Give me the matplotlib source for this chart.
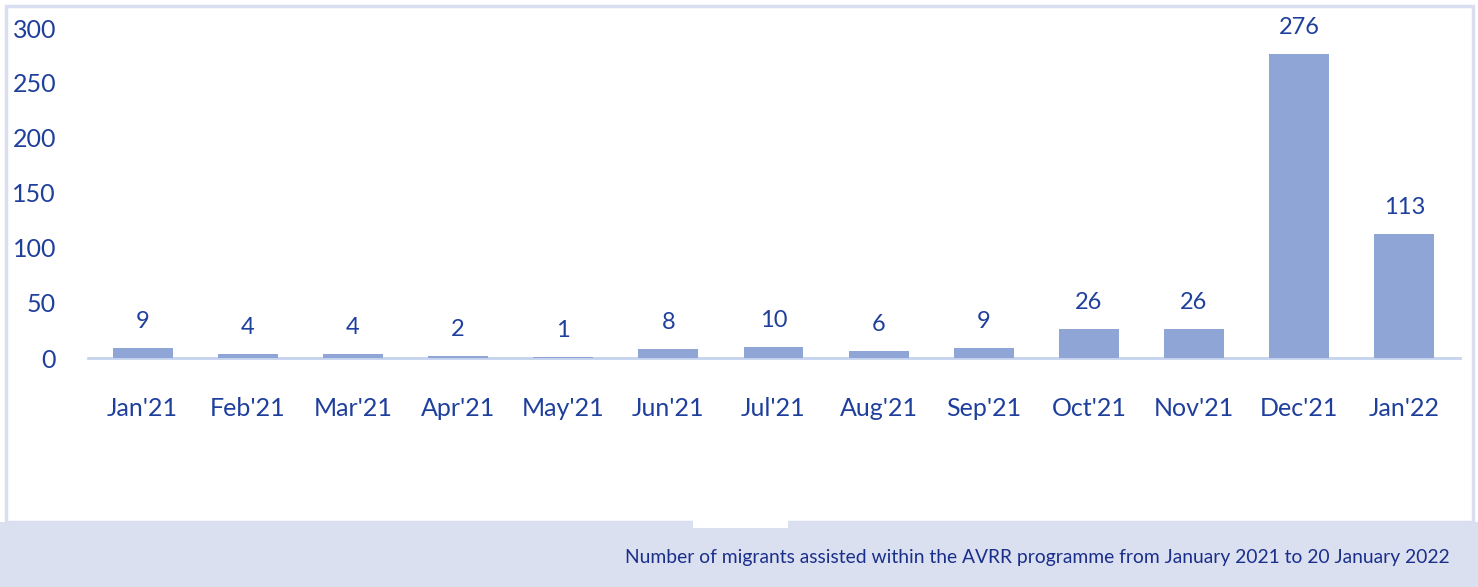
import matplotlib
matplotlib.use('Agg')
import matplotlib.pyplot as plt
from matplotlib.patches import Rectangle

months = ["Jan'21", "Feb'21", "Mar'21", "Apr'21", "May'21", "Jun'21", "Jul'21",
          "Aug'21", "Sep'21", "Oct'21", "Nov'21", "Dec'21", "Jan'22"]
migrants = [9, 4, 4, 2, 1, 8, 10, 6, 9, 26, 26, 276, 113]
yticks = [0, 50, 100, 150, 200, 250, 300]
caption = 'Number of migrants assisted within the AVRR programme from January 2021 to 20 January 2022'

txt_color = '#1f3f9c'
bar_color = '#8ea5d6'
frame_color = '#d9dff1'

plt.rcParams['font.family'] = ['Lato', 'DejaVu Sans']

W, H = 1478, 587
fig = plt.figure(figsize=(W / 100, H / 100), dpi=100)

# frame and bottom band, drawn in figure pixels
def px(x, y):
    return x / W, 1 - y / H

band = Rectangle(px(0, H), 1, (H - 522) / H, transform=fig.transFigure,
                 facecolor='#dbe0f1', edgecolor='none', zorder=0)
fig.patches.append(band)
frame = Rectangle(px(6, 522), (1473 - 6) / W, (522 - 6) / H, transform=fig.transFigure,
                  facecolor='white', edgecolor=frame_color, linewidth=2.5, zorder=1)
fig.patches.append(frame)
notch = Rectangle(px(693, 528), (788 - 693) / W, 8 / H, transform=fig.transFigure,
                  facecolor='white', edgecolor='none', zorder=1)
fig.patches.append(notch)

ax = fig.add_axes([88 / W, (H - 358) / H, (1460 - 88) / W, (358 - 28) / H])
ax.set_zorder(5)
ax.set_facecolor('none')
x = range(len(months))
bars = ax.bar(x, migrants, width=0.57, color=bar_color, zorder=3)
for b, v in zip(bars, migrants):
    ax.annotate(str(v), (b.get_x() + b.get_width() / 2, b.get_height()),
                xytext=(0, 16), textcoords='offset pixels', ha='center', va='bottom',
                fontsize=17, color=txt_color, annotation_clip=False)

ax.set_xlim(-0.52, 12.53)
ax.set_ylim(0, 300)
ax.set_yticks(yticks)
ax.set_xticks(list(x))
ax.set_xticklabels(months)
for s in ['top', 'right', 'left']:
    ax.spines[s].set_visible(False)
ax.spines['bottom'].set_color('#c5d2ee')
ax.spines['bottom'].set_linewidth(2)
ax.tick_params(axis='x', length=0, pad=28, labelsize=18, labelcolor=txt_color)
ax.tick_params(axis='y', length=0, pad=23, labelsize=18, labelcolor=txt_color)

fig.text(1450 / W, 1 - 557 / H, caption, ha='right', va='center',
         fontsize=13.9, color='#1a2f8a')

fig.savefig('out.png', dpi=100)
